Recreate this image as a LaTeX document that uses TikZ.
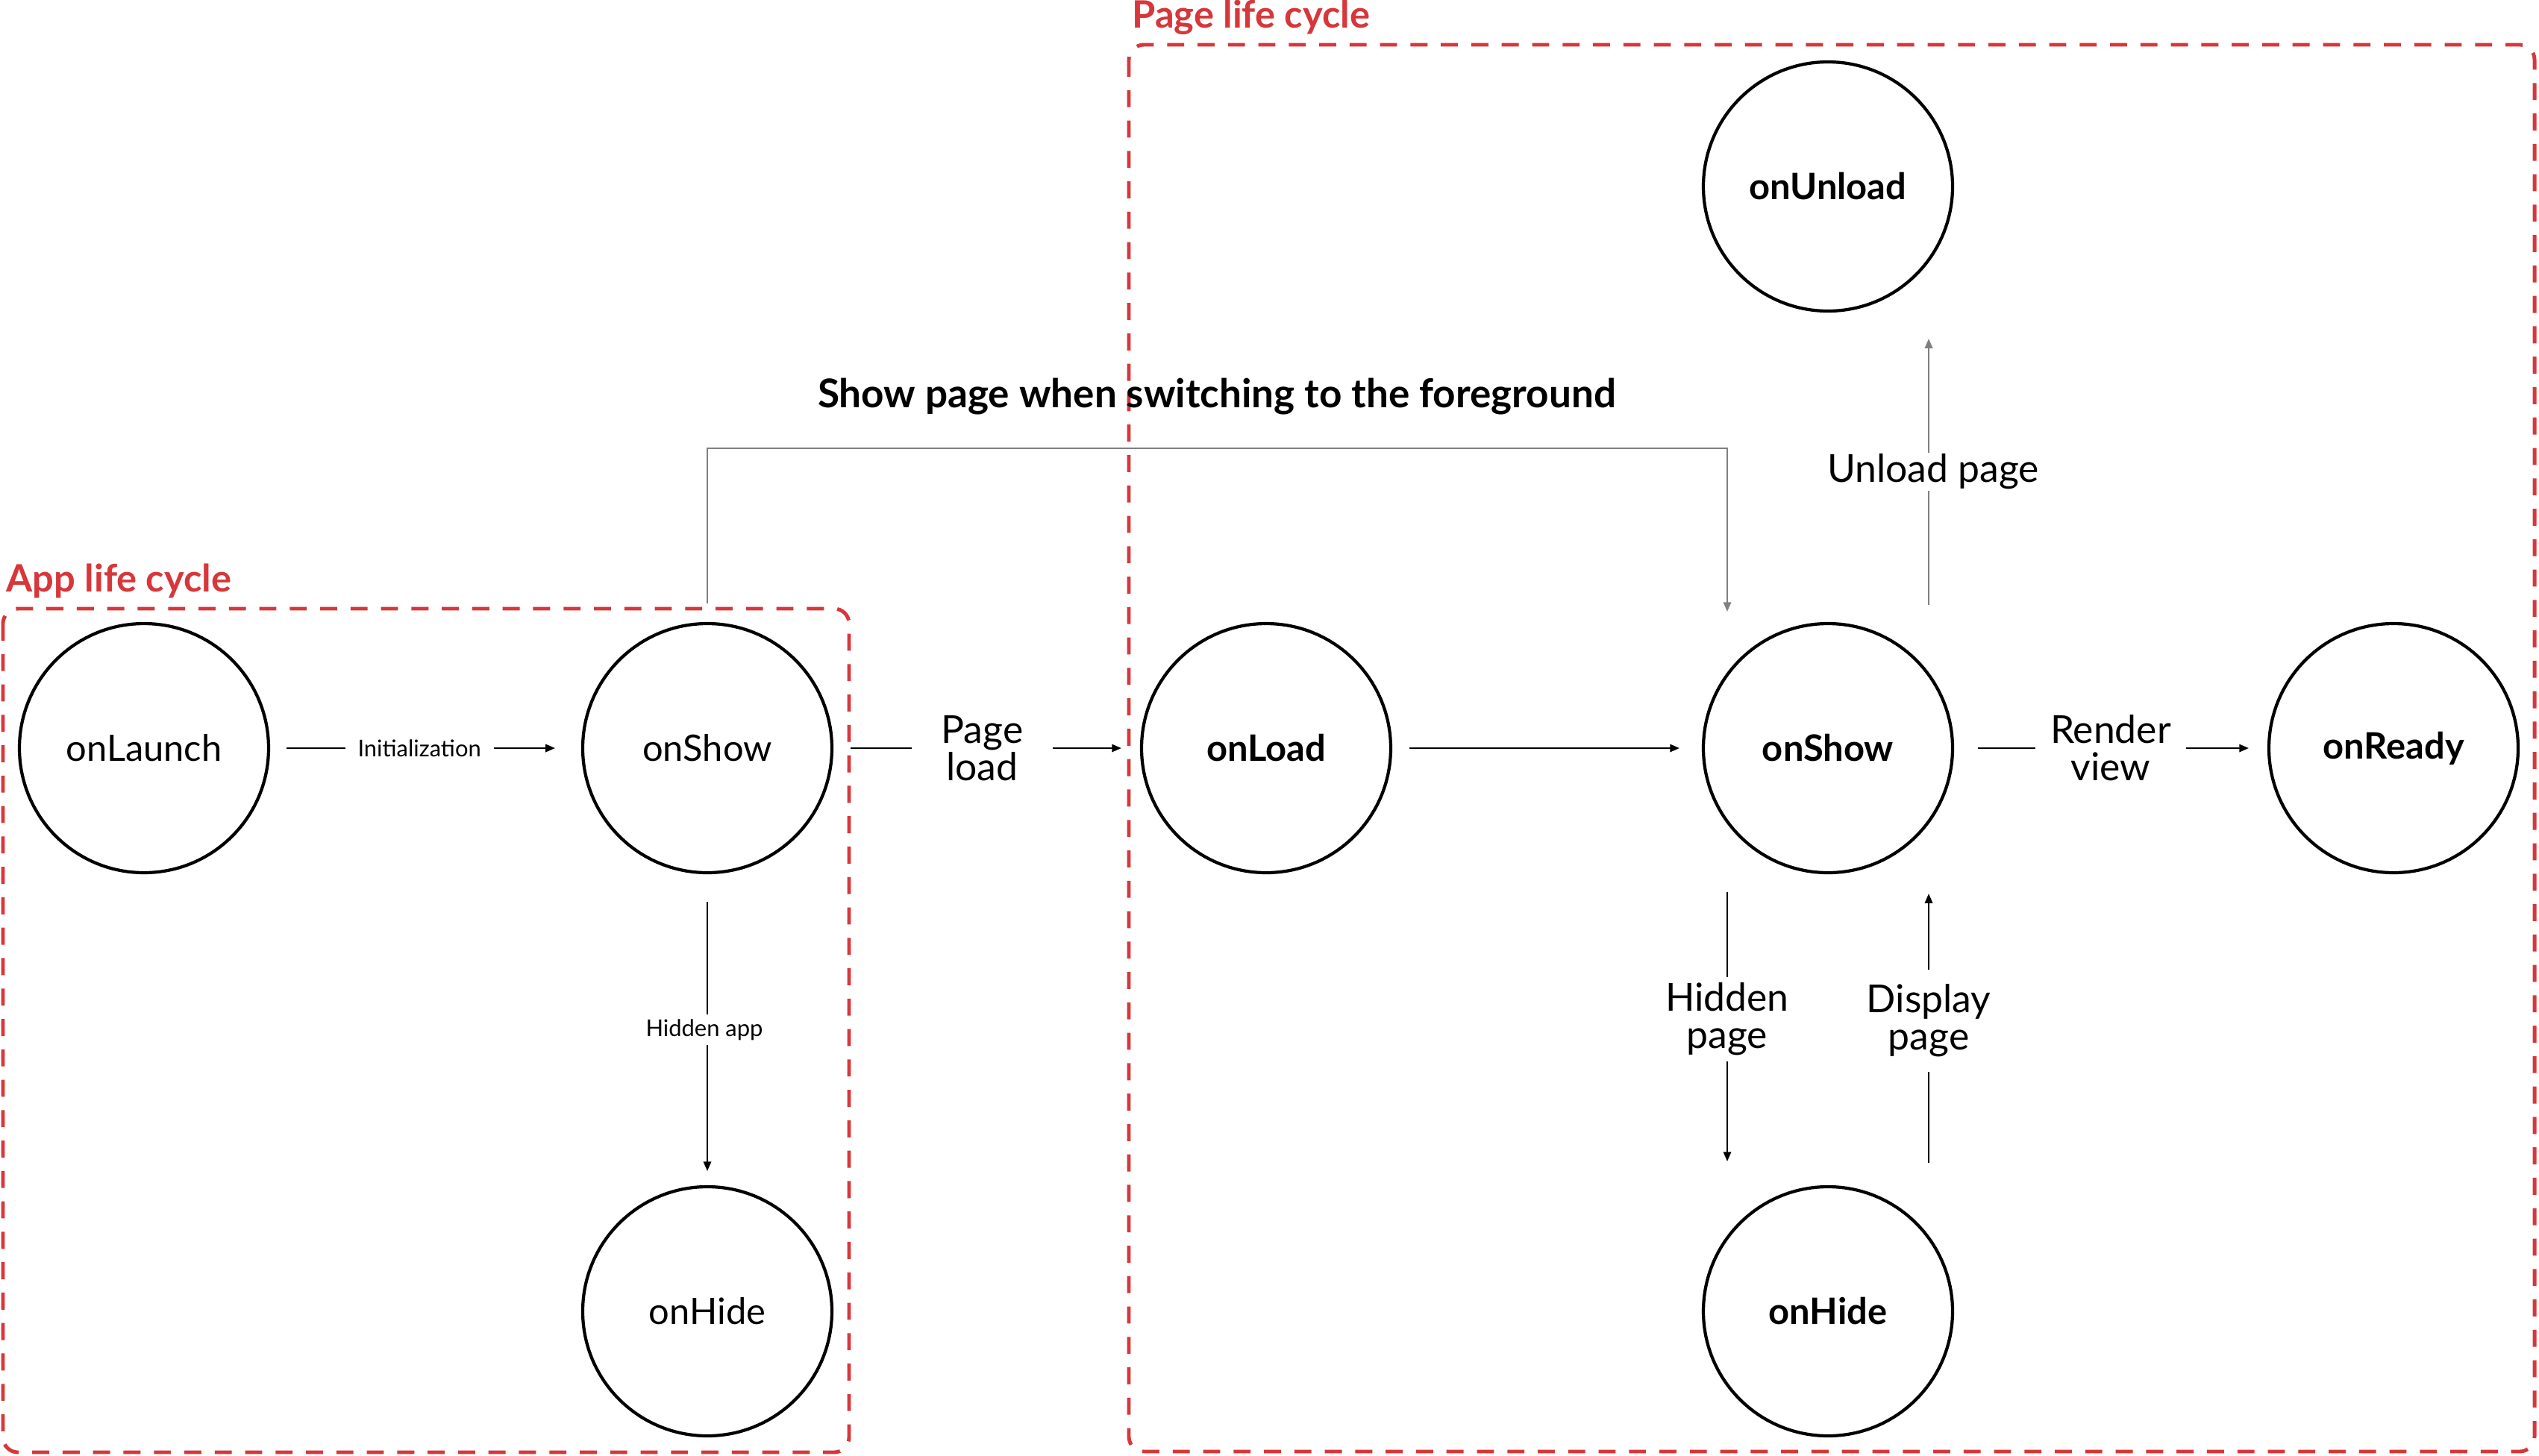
\documentclass[tikz,border=0pt]{standalone}
\usepackage{fontspec}
\setmainfont{Lato}
\usepackage{tikz}
\usepackage{xcolor}
\definecolor{maincolor}{HTML}{D7373A}
\colorlet{framecolor}{maincolor}
\colorlet{linkcolor}{black}
\colorlet{jumpcolor}{black!50}
\usetikzlibrary{
  arrows.meta,
  shapes,
}

\begin{document}
\begin{tikzpicture}[>={Triangle[length=3.6pt,width=3pt]}]
	\tikzstyle{every node}=[font=\fontsize{13.9}{16}\selectfont]
	\tikzstyle{state}=[draw, shape=circle, line width=1.2pt, minimum size=3.34cm, inner sep=0pt]
	\tikzstyle{link}=[->, line width=0.45pt, linkcolor]
	\tikzstyle{tag}=[fill=white, align=center, inner ysep=0.08cm, font=\fontsize{14.7}{14.2}\selectfont]
	\tikzstyle{smalltag}=[fill=white, inner ysep=0.06cm, font=\fontsize{8.8}{10}\selectfont]
	\tikzstyle{frame}=[framecolor, line width=1.4pt, dash pattern=on 6.5pt off 5.1pt, rounded corners=0.2cm]
	\tikzstyle{framelabel}=[framecolor, anchor=base west, inner sep=0pt, font=\bfseries\fontsize{14.4}{15}\selectfont]
	\useasboundingbox (0,0) rectangle (34.03,-19.51);
	% frames
	\draw [frame] (0.04,-8.16) rectangle (11.38,-19.47);
	\node (applabel) [framelabel] at (0.08,-7.93) {App life cycle};
	\draw [frame] (15.13,-0.60) rectangle (33.97,-19.46);
	\node (pagelabel) [framelabel] at (15.17,-0.37) {Page life cycle};
	% App states
	\node (launch) [state] at (1.93,-10.03) {onLaunch};
	\node (appshow) [state] at (9.48,-10.03) {onShow};
	\node (apphide) [state] at (9.48,-17.58) {onHide};
	% Page states
	\tikzstyle{every node}=[font=\bfseries\fontsize{13.9}{16}\selectfont]
	\node (load) [state] at (16.97,-10.03) {onLoad};
	\node (pageshow) [state] at (24.50,-10.03) {onShow};
	\node (ready) [state] at (32.08,-10.03) {onReady};
	\node (unload) [state] at (24.50,-2.50) {onUnload};
	\node (pagehide) [state] at (24.50,-17.58) {onHide};
	\tikzstyle{every node}=[font=\fontsize{13.9}{16}\selectfont]
	% Arrows in the app
	\draw [link, shorten <=0.22cm, shorten >=0.35cm] (launch) -- node [smalltag, pos=0.48, inner xsep=0.17cm] {Initialization} (appshow);
	\draw [link, shorten <=0.37cm, shorten >=0.19cm] (appshow) -- node [smalltag, xshift=-0.04cm] {Hidden app} (apphide);
	% Arrows to the page
	\draw [link, shorten <=0.23cm, shorten >=0.25cm] (appshow) -- node [tag, xshift=-0.06cm, inner xsep=0.4cm] {Page\\load} (load);
	\draw [link, shorten <=0.23cm, shorten >=0.30cm] (load) -- (pageshow);
	\draw [link, shorten <=0.32cm, shorten >=0.25cm] (pageshow) -- node [tag, inner xsep=0.2cm] {Render\\view} (ready);
	\draw [link, shorten <=0.24cm, shorten >=0.32cm] ([xshift=-1.35cm]pageshow.south) -- node [tag, yshift=0.14cm] {Hidden\\page} ([xshift=-1.35cm]pagehide.north);
	\draw [link, shorten <=0.30cm, shorten >=0.26cm] ([xshift=1.35cm]pagehide.north) -- node [tag, yshift=0.12cm, inner ysep=0.2cm] {Display\\page} ([xshift=1.35cm]pageshow.south);
	\draw [link, jumpcolor, shorten <=0.23cm, shorten >=0.35cm] ([xshift=1.35cm]pageshow.north) -- node [tag, text=black, yshift=-0.06cm, xshift=0.06cm, inner ysep=0.02cm] {Unload page} ([xshift=1.35cm]unload.south);
	% Back to the foreground
	\coordinate (bend) at (16.31,-6.01);
	\node (fgtitle) [anchor=base, font=\bfseries\fontsize{15.1}{16}\selectfont] at (16.31,-5.46) {Show page when switching to the foreground};
	\draw [link, jumpcolor, shorten <=0.25cm, shorten >=0.14cm] (appshow.north) -- (appshow.north |- bend) -- ([xshift=-1.35cm]pageshow.north |- bend) -- ([xshift=-1.35cm]pageshow.north);
\end{tikzpicture}
\end{document}
